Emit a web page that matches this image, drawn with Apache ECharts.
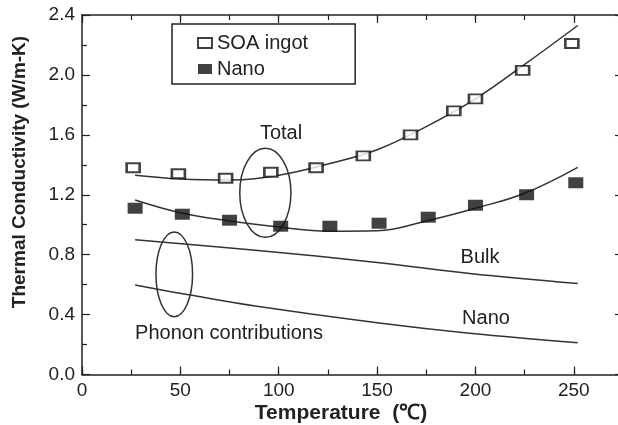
<!DOCTYPE html>
<html>
<head>
<meta charset="utf-8">
<script src="https://cdn.jsdelivr.net/npm/echarts@6/dist/echarts.min.js"></script>
<style>
  html, body { margin: 0; padding: 0; background: #fff; }
  #chart { width: 618px; height: 425px; }
</style>
</head>
<body>
<div id="chart"></div>
<script>
// measured points
const soaIngot = [
  [26, 1.38], [49, 1.34], [73, 1.31], [96, 1.35], [119, 1.38], [143, 1.46],
  [167, 1.60], [189, 1.76], [200, 1.84], [224, 2.03], [249, 2.21]
];
const nanoPts = [
  [27, 1.11], [51, 1.07], [75, 1.03], [101, 0.99], [126, 0.99], [151, 1.01],
  [176, 1.05], [200, 1.13], [226, 1.20], [251, 1.28]
];

// fitted curves
const soaFit = [
  [27, 1.33], [50, 1.305], [75, 1.298], [100, 1.33], [125, 1.405], [150, 1.50],
  [175, 1.655], [200, 1.84], [225, 2.07], [252, 2.33]
];
const nanoFit = [
  [27, 1.165], [50, 1.08], [75, 1.025], [100, 0.985], [125, 0.957], [150, 0.96],
  [175, 1.025], [200, 1.11], [225, 1.21], [252, 1.383]
];
const bulkPhonon = [[27, 0.90], [88, 0.83], [150, 0.748], [197, 0.675], [252, 0.608]];
const nanoPhonon = [[27, 0.597], [55, 0.53], [88, 0.457], [150, 0.345], [197, 0.275], [252, 0.212]];

// ellipses: center x, center y, half width, half height
const ellipses = [
  [93.2, 1.213, 13, 0.297],
  [46.9, 0.669, 9.3, 0.283]
];

const xTicks = [0, 50, 100, 150, 200, 250];

const font = "'Liberation Sans', Arial, sans-serif";
const ink = '#222';
const lineColor = '#333';

const chart = echarts.init(document.getElementById('chart'));

function xAxisCfg(pos, interval, tickLen, showLabel, showLine) {
  return {
    type: 'value', position: pos, min: 0, max: 275, interval: interval,
    axisLine: { show: showLine, onZero: false, lineStyle: { color: ink, width: 1.5 } },
    axisTick: { inside: true, length: tickLen, lineStyle: { color: ink, width: 1.2 } },
    axisLabel: {
      show: showLabel, margin: 7, color: ink, fontFamily: font, fontSize: 19,
      formatter: v => (xTicks.indexOf(v) >= 0 ? String(v) : '')
    },
    splitLine: { show: false }
  };
}

function yAxisCfg(pos, showLabel) {
  return {
    type: 'value', position: pos, min: 0, max: 2.4, interval: 0.4,
    axisLine: { show: true, onZero: false, lineStyle: { color: ink, width: 1.5 } },
    axisTick: { inside: true, length: 8, lineStyle: { color: ink, width: 1.2 } },
    minorTick: { show: true, splitNumber: 2, length: 5, lineStyle: { color: ink, width: 1.2 } },
    axisLabel: {
      show: showLabel, margin: 7, color: ink, fontFamily: font, fontSize: 19,
      formatter: v => v.toFixed(1)
    },
    splitLine: { show: false }
  };
}

function fitLine(data) {
  return {
    type: 'line', data: data, smooth: 0.4, symbol: 'none', silent: true,
    lineStyle: { color: lineColor, width: 1.5 }, z: 2
  };
}

chart.setOption({
  animation: false,
  grid: { left: 82, top: 15, right: -5, bottom: 50.5, outerBoundsMode: 'none' },
  legend: {
    orient: 'vertical', left: 172, top: 24,
    padding: [9, 47, 5, 25], itemGap: 6, itemWidth: 14, itemHeight: 10,
    borderColor: ink, borderWidth: 1.5,
    textStyle: { color: ink, fontFamily: font, fontSize: 20, lineHeight: 20 },
    data: ['SOA ingot', 'Nano']
  },
  xAxis: [
    xAxisCfg('bottom', 50, 8, true, true),
    xAxisCfg('bottom', 25, 5, false, false),
    xAxisCfg('top', 50, 8, false, true),
    xAxisCfg('top', 25, 5, false, false)
  ],
  yAxis: [yAxisCfg('left', true), yAxisCfg('right', false)],
  series: [
    fitLine(soaFit),
    fitLine(nanoFit),
    fitLine(bulkPhonon),
    fitLine(nanoPhonon),
    {
      type: 'custom', data: ellipses, silent: true, z: 2,
      encode: { x: 0, y: 1 },
      renderItem: function (params, api) {
        const c = api.coord([api.value(0), api.value(1)]);
        const s = api.size([api.value(2), api.value(3)]);
        return {
          type: 'ellipse',
          shape: { cx: c[0], cy: c[1], rx: s[0], ry: s[1] },
          style: { fill: 'none', stroke: lineColor, lineWidth: 1.5 }
        };
      }
    },
    {
      name: 'SOA ingot', type: 'scatter', data: soaIngot, symbol: 'rect',
      symbolSize: [13, 9], z: 5,
      itemStyle: { color: '#fff', borderColor: '#111', borderWidth: 2.2 }
    },
    {
      name: 'Nano', type: 'scatter', data: nanoPts, symbol: 'rect',
      symbolSize: [15, 11], z: 5,
      itemStyle: { color: '#111', borderWidth: 0 }
    }
  ],
  graphic: [
    { type: 'text', x: 281, y: 133, style: { text: 'Total', font: '20px ' + font, fill: ink, align: 'center', verticalAlign: 'middle' } },
    { type: 'text', x: 480, y: 257, style: { text: 'Bulk', font: '20px ' + font, fill: ink, align: 'center', verticalAlign: 'middle' } },
    { type: 'text', x: 486, y: 318, style: { text: 'Nano', font: '20px ' + font, fill: ink, align: 'center', verticalAlign: 'middle' } },
    { type: 'text', x: 229, y: 333, style: { text: 'Phonon contributions', font: '20px ' + font, fill: ink, align: 'center', verticalAlign: 'middle' } },
    { type: 'text', x: 341, y: 413, style: { text: 'Temperature  (\u2103)', font: 'bold 21px ' + font, fill: ink, align: 'center', verticalAlign: 'middle' } },
    { type: 'text', x: 20, y: 172, rotation: Math.PI / 2, style: { text: 'Thermal Conductivity (W/m-K)', font: 'bold 19px ' + font, fill: ink, align: 'center', verticalAlign: 'middle' } }
  ]
});
</script>
</body>
</html>
